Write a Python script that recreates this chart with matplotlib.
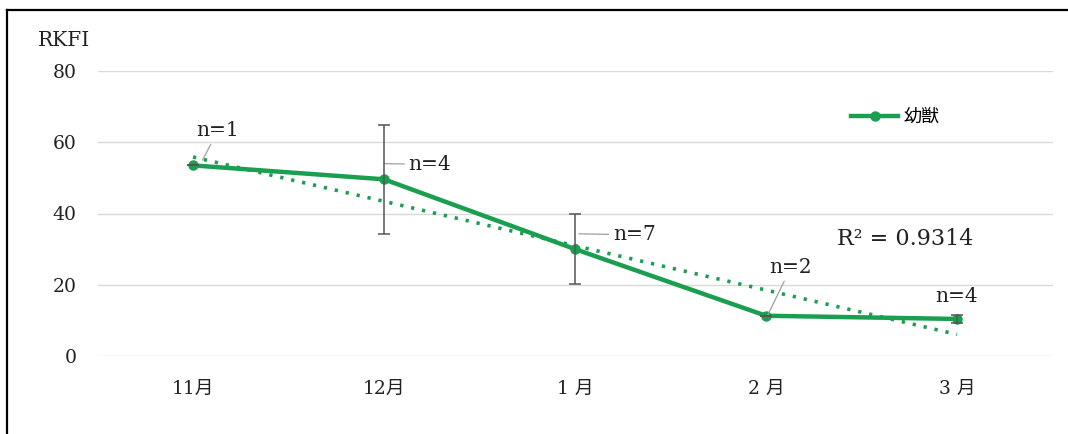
import matplotlib
matplotlib.use("Agg")
import matplotlib.pyplot as plt
from matplotlib.lines import Line2D
import numpy as np

plt.rcParams['font.family'] = ['DejaVu Serif', 'Noto Sans CJK JP']

# monthly RKFI for juveniles
months = ['11月', '12月', '1 月', '2 月', '3 月']
rkfi = [53.5, 49.6, 30.0, 11.3, 10.4]
rkfi_err = [0, 15.3, 9.8, 0, 1.0]
counts = ['n=1', 'n=4', 'n=7', 'n=2', 'n=4']
r2_text = 'R² = 0.9314'

green = '#1a9e4f'
x = np.arange(len(months))

fig = plt.figure(figsize=(10.68, 4.34), dpi=100)
ax = fig.add_axes([97.5 / 1068, 78 / 434, 955 / 1068, 285 / 434])

ax.plot(x, rkfi, '-o', color=green, lw=3.2, ms=6.5, label='幼獣', zorder=3)
ax.errorbar(x, rkfi, yerr=rkfi_err, fmt='none', ecolor='#555555',
            elinewidth=1.1, capsize=4, capthick=1.1, zorder=4)

# linear trend line
k, b = np.polyfit(x, rkfi, 1)
ax.plot(x, k * x + b, color=green, lw=2.6, dashes=(0.9, 2.2), zorder=2)

# sample size labels with leader lines
label_pos = [(0.13, 63.2), (1.24, 53.8), (2.31, 34.0), (3.13, 24.8), (4.0, 16.6)]
leader_end = [(0.05, 55.0), (1.0, 54.0), (2.02, 34.3), (3.01, 11.6), None]
for txt, pos, end in zip(counts, label_pos, leader_end):
    if end is None:
        ax.text(pos[0], pos[1], txt, ha='center', va='center', fontsize=14.5, color='#222222')
    else:
        ax.annotate(txt, xy=end, xytext=pos, ha='center', va='center', fontsize=14.5,
                    color='#222222',
                    arrowprops=dict(arrowstyle='-', color='#a0a0a0', lw=0.9,
                                    shrinkA=1, shrinkB=0))

ax.text(3.37, 32.8, r2_text, ha='left', va='center', fontsize=16, color='#222222')

ax.set_xlim(-0.5, len(months) - 0.5)
ax.set_ylim(0, 80)
ax.set_yticks([0, 20, 40, 60, 80])
ax.set_xticks(x)
ax.set_xticklabels(months)
ax.tick_params(length=0, labelsize=13.5, pad=17, colors='#222222')
ax.tick_params(axis='y', pad=15)
ax.grid(axis='y', color='#d9d9d9', lw=1)
ax.set_axisbelow(True)
for s in ax.spines.values():
    s.set_visible(False)

fig.text(38 / 1068, 1 - 41 / 434, 'RKFI', fontsize=14.5, va='center', ha='left',
         color='#222222')

ax.legend(loc='center left', bbox_to_anchor=(835 / 1068, 1 - 117 / 434),
          bbox_transform=fig.transFigure, frameon=False, fontsize=13,
          handlelength=2.6, handletextpad=0.3)

# outer frame (top and left edges)
fig.add_artist(Line2D([7 / 1068, 1], [1 - 10 / 434, 1 - 10 / 434],
                      transform=fig.transFigure, color='black', lw=1.6))
fig.add_artist(Line2D([7 / 1068, 7 / 1068], [0, 1 - 10 / 434],
                      transform=fig.transFigure, color='black', lw=1.6))

fig.savefig('out.png', dpi=100)
